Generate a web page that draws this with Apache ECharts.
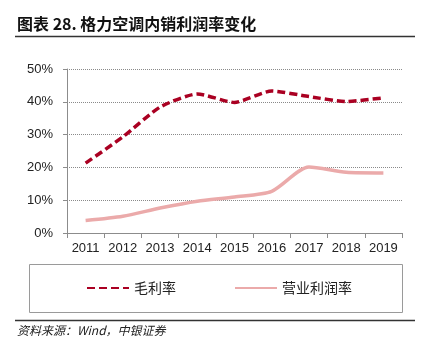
<!DOCTYPE html>
<html>
<head>
<meta charset="utf-8">
<script src="https://cdn.jsdelivr.net/npm/echarts@6/dist/echarts.min.js"></script>
<style>html,body{margin:0;padding:0;background:#fff;}#c{width:424px;height:357px;}</style>
</head>
<body>
<div id="c"></div>
<script>
const categories = ['2011','2012','2013','2014','2015','2016','2017','2018','2019'];
const grossMargin = [21.3, 29.3, 38.4, 42.4, 39.8, 43.3, 41.6, 40.1, 41.2];
const operatingMargin = [3.8, 5.1, 7.6, 9.7, 11.0, 12.7, 20.1, 18.5, 18.3];
const seriesNames = ['毛利率', '营业利润率'];
const yTicks = [0, 10, 20, 30, 40, 50];

const chart = echarts.init(document.getElementById('c'), null, {renderer: 'canvas'});
const CJK = '"Noto Sans CJK SC", "Noto Sans", sans-serif';
const LAT = '"Liberation Sans", Arial, sans-serif';
chart.setOption({
  animation: false,
  backgroundColor: '#fff',
  grid: {left: 67, right: 22, top: 69, bottom: 124, containLabel: false},
  xAxis: {
    type: 'category',
    data: categories,
    boundaryGap: true,
    axisLine: {show: true, lineStyle: {color: '#8c8c8c', width: 1}},
    axisTick: {show: true, length: 5, interval: 0, alignWithLabel: false, lineStyle: {color: '#8c8c8c'}},
    axisLabel: {color: '#222', fontFamily: LAT, fontSize: 13, margin: 9, interval: 0}
  },
  yAxis: {
    type: 'value',
    min: yTicks[0],
    max: yTicks[yTicks.length - 1],
    interval: 10,
    axisLine: {show: true, lineStyle: {color: '#8c8c8c', width: 1}},
    axisTick: {show: true, length: 4, lineStyle: {color: '#8c8c8c'}},
    axisLabel: {color: '#222', fontFamily: LAT, fontSize: 13, margin: 14, formatter: v => v + '%'},
    splitLine: {show: true, lineStyle: {color: '#8a8a8a', type: [1, 1], width: 1}}
  },
  legend: {
    left: 86,
    top: 281,
    padding: 0,
    itemWidth: 42,
    itemHeight: 14,
    itemGap: 58,
    itemStyle: {opacity: 0},
    textStyle: {fontFamily: CJK, fontSize: 14, color: '#222'},
    data: seriesNames
  },
  series: [
    {
      name: seriesNames[0],
      type: 'line',
      data: grossMargin,
      smooth: 0.2,
      symbol: 'none',
      lineStyle: {color: '#AA0022', width: 3.5, type: [8, 4]},
      itemStyle: {color: '#AA0022'}
    },
    {
      name: seriesNames[1],
      type: 'line',
      data: operatingMargin,
      smooth: 0.25,
      symbol: 'none',
      lineStyle: {color: '#EBAAAA', width: 3.5},
      itemStyle: {color: '#EBAAAA'}
    }
  ],
  graphic: [
    {type: 'text', left: 17, top: 16, style: {text: '图表 28. 格力空调内销利润率变化', font: 'bold 16px ' + CJK, fill: '#111'}},
    {type: 'line', shape: {x1: 15, y1: 36.5, x2: 415, y2: 36.5}, style: {stroke: '#333', lineWidth: 1.5}},
    {type: 'rect', shape: {x: 29.5, y: 264.5, width: 373, height: 48}, style: {fill: 'none', stroke: '#9a9a9a', lineWidth: 1}, z: -1},
    {type: 'line', shape: {x1: 15, y1: 320.5, x2: 415, y2: 320.5}, style: {stroke: '#333', lineWidth: 1.5}},
    {type: 'text', left: 17, top: 324, style: {text: '资料来源：Wind，中银证券', font: 'italic 12px ' + CJK, fill: '#222'}}
  ]
});
</script>
</body>
</html>
